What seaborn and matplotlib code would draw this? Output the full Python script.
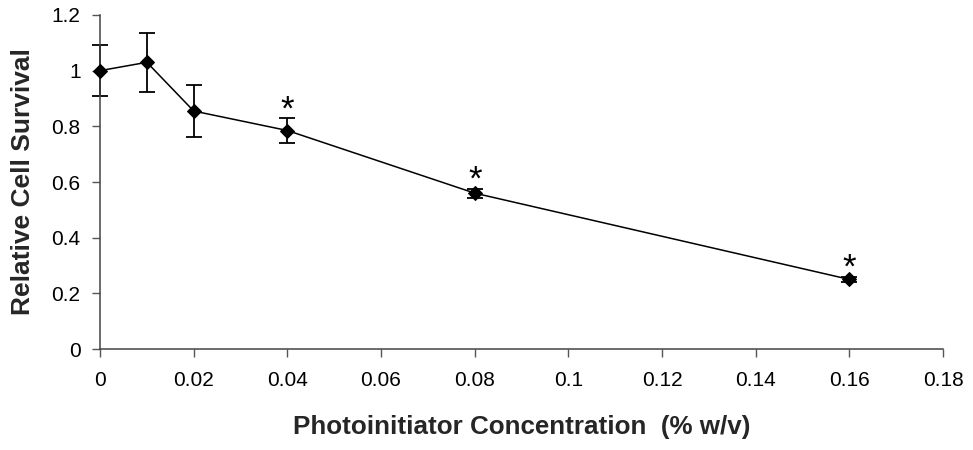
import matplotlib
matplotlib.use("Agg")
import matplotlib.pyplot as plt
import seaborn as sns
import pandas as pd

conc = [0.0, 0.01, 0.02, 0.04, 0.08, 0.16]
survival = [1.0, 1.03, 0.855, 0.785, 0.56, 0.25]
err = [0.092, 0.105, 0.093, 0.044, 0.016, 0.01]
significant = [False, False, False, True, True, True]
xticks = [0, 0.02, 0.04, 0.06, 0.08, 0.1, 0.12, 0.14, 0.16, 0.18]
xticklabels = ["0", "0.02", "0.04", "0.06", "0.08", "0.1", "0.12", "0.14", "0.16", "0.18"]
yticks = [0, 0.2, 0.4, 0.6, 0.8, 1.0, 1.2]
yticklabels = ["0", "0.2", "0.4", "0.6", "0.8", "1", "1.2"]

sns.set_style("ticks")
plt.rcParams['font.family'] = ['Liberation Sans', 'DejaVu Sans']

df = pd.DataFrame({"conc": conc, "survival": survival, "err": err})

fig = plt.figure(figsize=(9.73, 4.5), dpi=100)
ax = fig.add_axes([0.1028, 0.2244, 0.8664, 0.7423])

eb = ax.errorbar(df["conc"], df["survival"], yerr=df["err"], fmt="none",
                 ecolor="black", elinewidth=1.3, capsize=5.5, capthick=1.3, zorder=2)
for art in eb.lines[1]:
    art.set_clip_on(False)
for coll in eb.lines[2]:
    coll.set_clip_on(False)
sns.lineplot(data=df, x="conc", y="survival", ax=ax, color="black",
             linewidth=1.1, marker="D", markersize=7.5, markeredgecolor="black",
             markerfacecolor="black", zorder=3, clip_on=False)

for x, y, e, s in zip(conc, survival, err, significant):
    if s:
        ax.text(x, y + e + 0.03, "*", ha="center", va="center", fontsize=25,
                color="black")

ax.set_xlim(0, 0.18)
ax.set_ylim(0, 1.2)
ax.set_xticks(xticks)
ax.set_xticklabels(xticklabels, fontsize=15)
ax.set_yticks(yticks)
ax.set_yticklabels(yticklabels, fontsize=15)
ax.tick_params(axis="both", direction="out", length=6, width=1, color="#555555",
               labelcolor="black")
ax.tick_params(axis="x", pad=10)
ax.tick_params(axis="y", pad=8)
for side in ["top", "right"]:
    ax.spines[side].set_visible(False)
for side in ["left", "bottom"]:
    ax.spines[side].set_color("#444444")
    ax.spines[side].set_linewidth(1.1)

ax.set_xlabel("Photoinitiator Concentration  (% w/v)", fontsize=18.7,
              fontweight="bold", labelpad=18)
ax.set_ylabel("Relative Cell Survival", fontsize=19, fontweight="bold",
              labelpad=12)

fig.savefig("out.png", dpi=100)
